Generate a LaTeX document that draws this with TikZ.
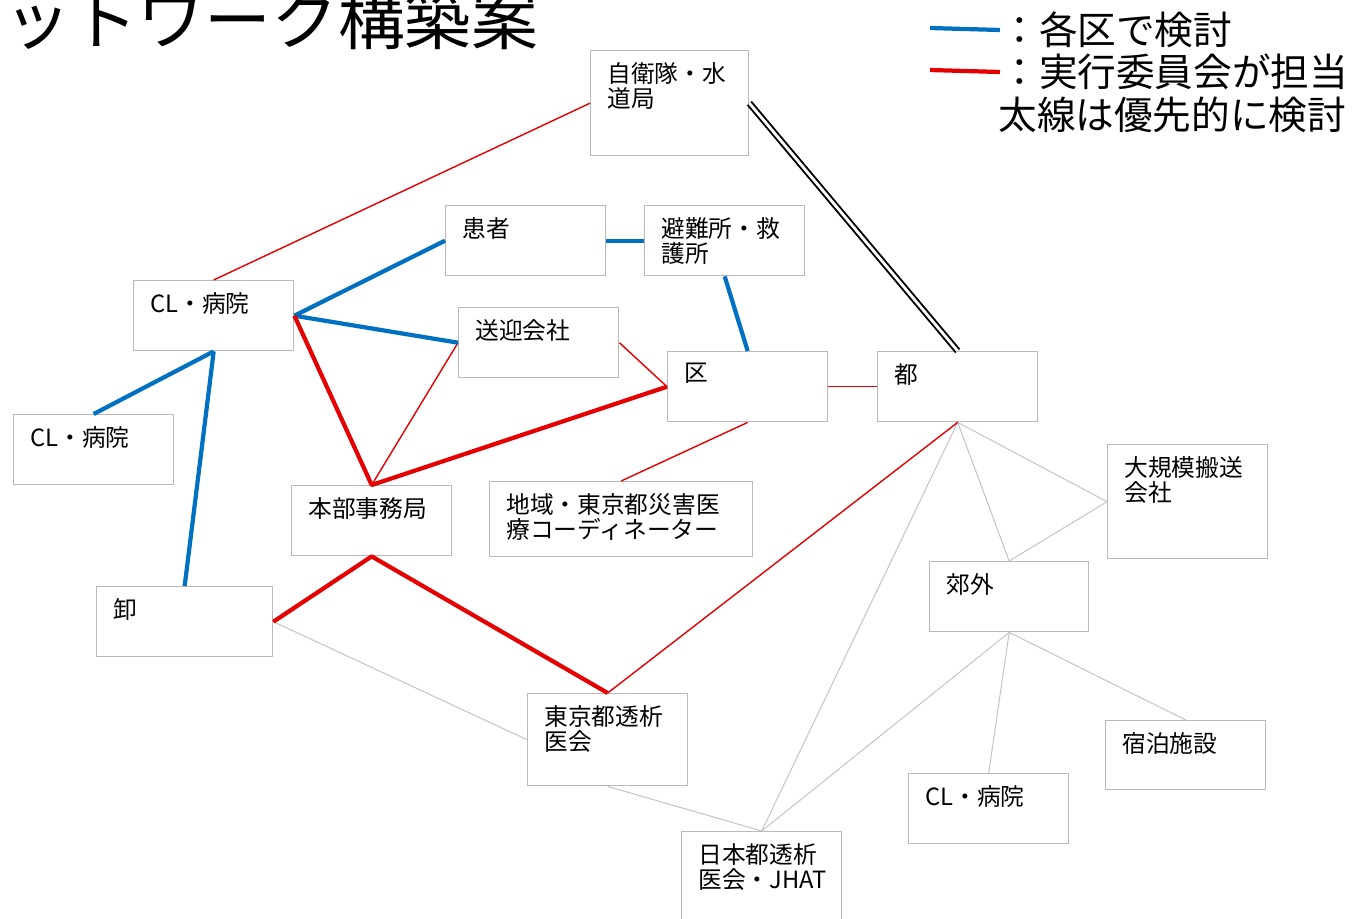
\documentclass[tikz,border=0pt]{standalone}
\usepackage{fontspec}
\setmainfont{Noto Sans CJK JP}
\usepackage{xcolor}

\definecolor{kuBlue}{RGB}{0,112,192}
\definecolor{jikRed}{RGB}{228,0,0}

\tikzset{
  box/.style={draw=gray!55, line width=0.8pt, anchor=north west, inner sep=0pt,
    minimum width=3.2cm, minimum height=1.4cm},
  lbl/.style={anchor=north west, align=left, inner sep=0pt, xshift=0.34cm, yshift=-0.24cm,
    font=\fontsize{13.5}{14.5}\selectfont},
  blu/.style={draw=kuBlue, line width=2.4pt},
  redthick/.style={draw=jikRed, line width=2.4pt},
  redthin/.style={draw=jikRed, line width=0.8pt},
  grayline/.style={draw=gray!45, line width=0.6pt},
  legtxt/.style={anchor=west, inner sep=0pt, font=\fontsize{22}{26}\selectfont}
}

\begin{document}
\begin{tikzpicture}[x=0.02cm, y=-0.02cm]
\useasboundingbox (0,0) rectangle (1359,919);

% title, cut at the left edge
\node[anchor=base west, inner sep=0pt, font=\fontsize{38}{40}\selectfont] (title) at (4,45) {ットワーク構築案};

% legend
\coordinate (lgb) at (930,28);
\coordinate (lgr) at (930,70);
\node[legtxt] (legb) at (1000,30) {：各区で検討};
\node[legtxt] (legr) at (1000,72) {：実行委員会が担当};
\node[legtxt] (legf) at (998,115) {太線は優先的に検討};
\draw[blu] (lgb) -- (legb.west);
\draw[redthick] (lgr) -- (legr.west);

% boxes
\node[box, minimum width=3.16cm, minimum height=2.1cm, label={[lbl]north west:{自衛隊・水\\道局}}] (jieitai) at (590,50) {};
\node[box, label={[lbl]north west:{患者}}] (kanja) at (445,205) {};
\node[box, label={[lbl]north west:{避難所・救\\護所}}] (hinan) at (644,205) {};
\node[box, label={[lbl]north west:{CL・病院}}] (cl1) at (133,280) {};
\node[box, label={[lbl]north west:{送迎会社}}] (sougei) at (458,307) {};
\node[box, label={[lbl]north west:{区}}] (ku) at (667,351) {};
\node[box, label={[lbl]north west:{都}}] (to) at (877,351) {};
\node[box, label={[lbl]north west:{CL・病院}}] (cl2) at (13,414) {};
\node[box, label={[lbl]north west:{本部事務局}}] (honbu) at (291,485) {};
\node[box, minimum width=5.26cm, minimum height=1.5cm, label={[lbl]north west:{地域・東京都災害医\\療コーディネーター}}] (chiiki) at (489,481) {};
\node[box, minimum height=2.28cm, label={[lbl]north west:{大規模搬送\\会社}}] (daikibo) at (1107,444) {};
\node[box, minimum width=3.18cm, label={[lbl]north west:{郊外}}] (kougai) at (929,561) {};
\node[box, minimum width=3.52cm, label={[lbl]north west:{卸}}] (oroshi) at (96,586) {};
\node[box, minimum height=1.84cm, label={[lbl]north west:{東京都透析\\医会}}] (toseki) at (527,693) {};
\node[box, minimum height=1.38cm, label={[lbl]north west:{宿泊施設}}] (shukuhaku) at (1105,720) {};
\node[box, label={[lbl]north west:{CL・病院}}] (cl3) at (908,773) {};
\node[box, minimum height=1.9cm, label={[lbl]north west:{日本都透析\\医会・JHAT}}] (jhat) at (681,831) {};

% gray lines first
\foreach \a/\b in {oroshi.east/toseki.west, toseki.south/jhat.north, to.south/jhat.north,
  to.south/kougai.north, to.south/daikibo.west, kougai.north/daikibo.west,
  kougai.south/jhat.north, kougai.south/cl3.north, kougai.south/shukuhaku.north}
  {\draw[grayline] (\a) -- (\b);}

% red thin
\foreach \a/\b in {jieitai.west/cl1.north, sougei.west/honbu.north, sougei.east/ku.west,
  ku.east/to.west, ku.south/chiiki.north, toseki.north/to.south}
  {\draw[redthin] (\a) -- (\b);}

% blue, done by each ku
\foreach \a/\b in {cl1.east/kanja.west, kanja.east/hinan.west, hinan.south/ku.north,
  cl1.east/sougei.west, cl1.south/cl2.north, cl1.south/oroshi.north}
  {\draw[blu] (\a) -- (\b);}

% red thick
\draw[redthick, line join=round] (cl1.east) -- (honbu.north) -- (ku.west);
\draw[redthick, line join=round] (oroshi.east) -- (honbu.south) -- (toseki.north);

% the double one
\draw[double, draw=black, line width=1.1pt, double distance=1.6pt] (jieitai.east) -- (to.north);
\end{tikzpicture}
\end{document}
